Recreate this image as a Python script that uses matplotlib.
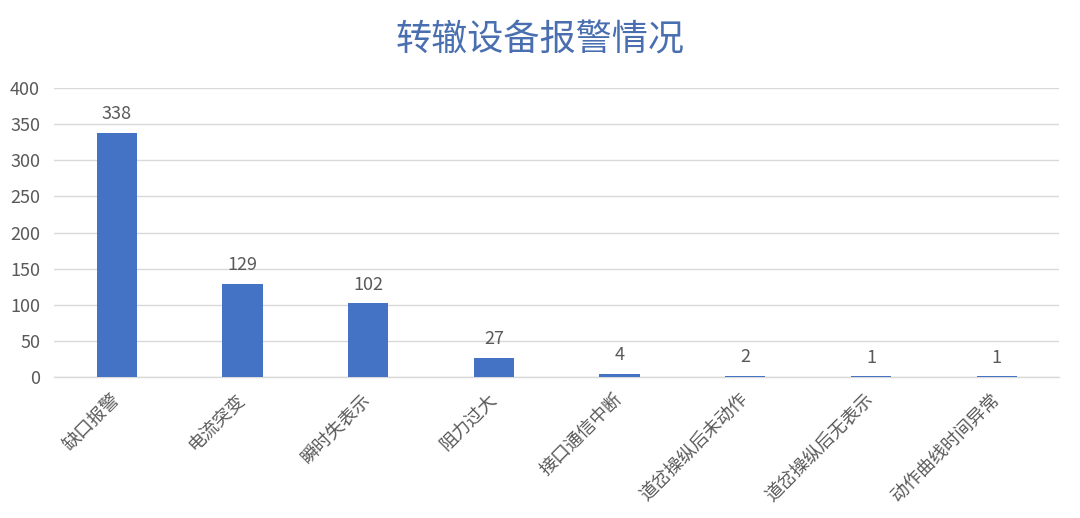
import matplotlib
matplotlib.use("Agg")
import matplotlib.pyplot as plt
import numpy as np

plt.rcParams['font.family'] = ['Noto Sans CJK SC', 'DejaVu Sans']

categories = ["缺口报警", "电流突变", "瞬时失表示", "阻力过大", "接口通信中断",
              "道岔操纵后未动作", "道岔操纵后无表示", "动作曲线时间异常"]
counts = [338, 129, 102, 27, 4, 2, 1, 1]
yticks = [0, 50, 100, 150, 200, 250, 300, 350, 400]

bar_color = "#4472C4"
text_gray = "#595959"
grid_gray = "#D9D9D9"

fig = plt.figure(figsize=(10.8, 5.18), dpi=100)
ax = fig.add_axes([0.05, 0.272, 0.931, 0.558])

x = np.arange(len(categories))
bars = ax.bar(x, counts, width=0.32, color=bar_color, zorder=3)

for xi, v in zip(x, counts):
    ax.annotate(str(v), (xi, v), xytext=(0, 7), textcoords="offset points",
                ha="center", va="bottom", fontsize=13, color=text_gray)

ax.set_xlim(-0.5, len(categories) - 0.5)
ax.set_ylim(0, 400)
ax.set_yticks(yticks)
ax.set_yticklabels([str(t) for t in yticks], fontsize=13, color=text_gray)
ax.set_xticks(x)
ax.set_xticklabels(categories, rotation=45, ha="right", va="center",
                   rotation_mode="anchor", fontsize=13, color=text_gray)
ax.tick_params(axis="both", length=0)
ax.tick_params(axis="y", pad=10)
ax.tick_params(axis="x", pad=14)

ax.grid(axis="y", color=grid_gray, linewidth=1, zorder=0)
for side in ["top", "right", "left"]:
    ax.spines[side].set_visible(False)
ax.spines["bottom"].set_color(grid_gray)
ax.spines["bottom"].set_linewidth(1)

fig.text(0.5, 0.922, "转辙设备报警情况", ha="center", va="center",
         fontsize=26, color="#4A6FB0")

fig.savefig("out.png", dpi=100)
